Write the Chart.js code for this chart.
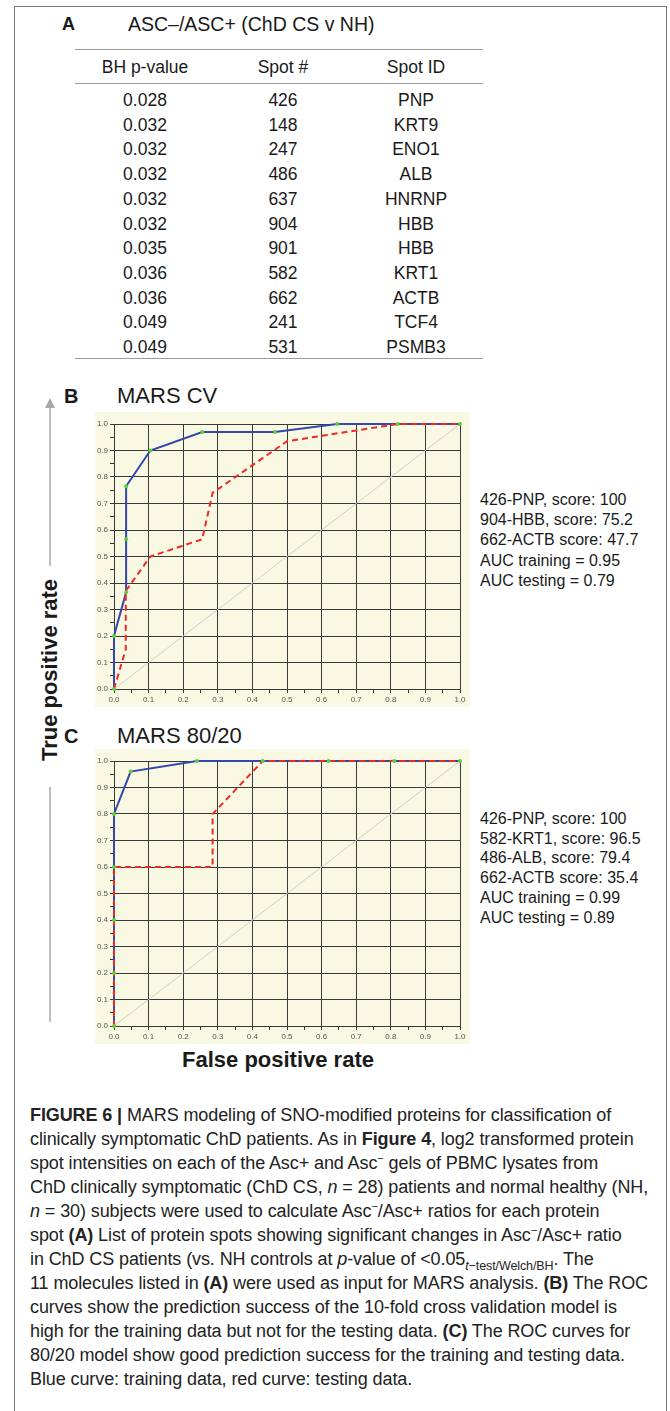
<!DOCTYPE html>
<html>
<head>
<meta charset="utf-8">
<script src="https://cdn.jsdelivr.net/npm/chart.js@4.4.1/dist/chart.umd.min.js"></script>
<style>
  body { margin: 0; background: #fff; font-family: "Liberation Sans", Arial, sans-serif; color: #1a1a1a; }
  #page { position: relative; width: 670px; height: 1411px; overflow: hidden; }
  .abs { position: absolute; white-space: nowrap; }
  .frame { position: absolute; left: 14px; top: 6px; width: 651px; height: 1420px; border: 1px solid #777; }
  .rule { position: absolute; left: 75px; width: 408px; height: 0; border-top: 1px solid #9a9a9a; }
  .cell { position: absolute; width: 120px; text-align: center; font-size: 17.5px; line-height: 24px; }
  .side { position: absolute; left: 480px; font-size: 16px; line-height: 20px; white-space: nowrap; }
  .panel { position: absolute; font-weight: bold; font-size: 20px; line-height: 24px; }
  .ptitle { position: absolute; font-size: 22px; line-height: 26px; }
  canvas.roc { position: absolute; left: 95px; background: #f8f8e3; }
  #caption { position: absolute; left: 30px; top: 1103px; font-size: 18px; line-height: 24px; color: #222; white-space: nowrap; letter-spacing: -0.1px; }
  #caption sup { font-size: 11px; line-height: 0; }
  #caption sub { font-size: 12.5px; line-height: 0; }
</style>
</head>
<body>
<div id="page">
  <div class="frame"></div>

  <div class="abs" style="left:62px;top:12px;font-weight:bold;font-size:18px;line-height:24px;">A</div>
  <div class="abs" style="left:128px;top:12px;font-size:19.5px;line-height:24px;">ASC–/ASC+ (ChD CS v NH)</div>
  <div class="rule" style="top:49px;"></div>
  <div id="table"></div>

  <div class="panel" style="left:64px;top:384px;">B</div>
  <div class="ptitle" style="left:117px;top:383px;">MARS CV</div>
  <canvas id="cvChart" class="roc" width="375" height="295" style="top:412px;"></canvas>
  <div id="cvNotes"></div>

  <div class="panel" style="left:64px;top:724px;">C</div>
  <div class="ptitle" style="left:117px;top:723px;">MARS 80/20</div>
  <canvas id="splitChart" class="roc" width="375" height="295" style="top:749px;"></canvas>
  <div id="splitNotes"></div>

  <!-- shared y axis title with arrow -->
  <svg class="abs" style="left:40px;top:396px;" width="20" height="640">
    <polygon points="10,2 5,12 15,12" fill="#a8a8a8"/>
    <line x1="10" y1="12" x2="10" y2="170" stroke="#a8a8a8" stroke-width="1.5"/>
    <line x1="10" y1="391" x2="10" y2="626" stroke="#a8a8a8" stroke-width="1.5"/>
  </svg>
  <div class="abs" style="left:50px;top:670px;transform:translate(-50%,-50%) rotate(-90deg);font-weight:bold;font-size:22px;">True positive rate</div>
  <div class="abs" style="left:278px;top:1060px;transform:translate(-50%,-50%);font-weight:bold;font-size:22px;">False positive rate</div>

  <div id="caption">
    <b>FIGURE 6 |</b> MARS modeling of SNO-modified proteins for classification of<br>
    clinically symptomatic ChD patients. As in <b>Figure 4</b>, log2 transformed protein<br>
    spot intensities on each of the Asc+ and Asc<sup>−</sup> gels of PBMC lysates from<br>
    ChD clinically symptomatic (ChD CS, <i>n</i> = 28) patients and normal healthy (NH,<br>
    <i>n</i> = 30) subjects were used to calculate Asc<sup>−</sup>/Asc+ ratios for each protein<br>
    spot <b>(A)</b> List of protein spots showing significant changes in Asc<sup>−</sup>/Asc+ ratio<br>
    in ChD CS patients (vs. NH controls at <i>p</i>-value of &lt;0.05<sub><i>t</i>−test/Welch/BH</sub>. The<br>
    11 molecules listed in <b>(A)</b> were used as input for MARS analysis. <b>(B)</b> The ROC<br>
    curves show the prediction success of the 10-fold cross validation model is<br>
    high for the training data but not for the testing data. <b>(C)</b> The ROC curves for<br>
    80/20 model show good prediction success for the training and testing data.<br>
    Blue curve: training data, red curve: testing data.
  </div>
</div>

<script>
// Panel A table
const tableHeader = ['BH p-value', 'Spot #', 'Spot ID'];
const bhPValues = ['0.028', '0.032', '0.032', '0.032', '0.032', '0.032', '0.035', '0.036', '0.036', '0.049', '0.049'];
const spotNumbers = ['426', '148', '247', '486', '637', '904', '901', '582', '662', '241', '531'];
const spotIds = ['PNP', 'KRT9', 'ENO1', 'ALB', 'HNRNP', 'HBB', 'HBB', 'KRT1', 'ACTB', 'TCF4', 'PSMB3'];

// Panel B: MARS CV ROC curves
const cvTrainFpr = [0, 0, 0.035, 0.035, 0.035, 0.105, 0.255, 0.465, 0.645, 0.82, 1.0];
const cvTrainTpr = [0, 0.2, 0.365, 0.565, 0.765, 0.9, 0.97, 0.97, 1.0, 1.0, 1.0];
const cvTestFpr = [0, 0.034, 0.034, 0.105, 0.255, 0.285, 0.5, 0.82, 1.0];
const cvTestTpr = [0, 0.15, 0.37, 0.5, 0.565, 0.74, 0.935, 1.0, 1.0];
const cvNotes = ['426-PNP, score: 100', '904-HBB, score: 75.2', '662-ACTB score: 47.7', 'AUC training = 0.95', 'AUC testing = 0.79'];

// Panel C: MARS 80/20 ROC curves
const splitTrainFpr = [0, 0, 0, 0, 0, 0.048, 0.24, 0.43, 0.62, 0.81, 1.0];
const splitTrainTpr = [0, 0.2, 0.4, 0.6, 0.8, 0.96, 1.0, 1.0, 1.0, 1.0, 1.0];
const splitTestFpr = [0, 0, 0.285, 0.285, 0.43, 1.0];
const splitTestTpr = [0, 0.6, 0.6, 0.8, 1.0, 1.0];
const splitNotes = ['426-PNP, score: 100', '582-KRT1, score: 96.5', '486-ALB, score: 79.4', '662-ACTB score: 35.4', 'AUC training = 0.99', 'AUC testing = 0.89'];

// chance diagonal and axis labels
const chanceFpr = [0, 1];
const chanceTpr = [0, 1];
const axisLabels = ['0.0', '0.1', '0.2', '0.3', '0.4', '0.5', '0.6', '0.7', '0.8', '0.9', '1.0'];

// build the table
const colCenters = [145, 283, 416];
let html = '';
tableHeader.forEach((h, c) => {
  html += `<div class="cell" style="left:${colCenters[c] - 60}px;top:55px;">${h}</div>`;
});
html += '<div class="rule" style="top:83px;"></div>';
bhPValues.forEach((p, i) => {
  const top = 88 + i * 24.7;
  [p, spotNumbers[i], spotIds[i]].forEach((v, c) => {
    html += `<div class="cell" style="left:${colCenters[c] - 60}px;top:${top}px;">${v}</div>`;
  });
});
html += '<div class="rule" style="top:358px;"></div>';
document.getElementById('table').innerHTML = html;

function writeNotes(id, lines, top, step) {
  document.getElementById(id).innerHTML = lines
    .map((t, i) => `<div class="side" style="top:${top + i * step}px;">${t}</div>`)
    .join('');
}
writeNotes('cvNotes', cvNotes, 490, 20.2);
writeNotes('splitNotes', splitNotes, 809, 19.7);

const isMajor = v => Math.abs(v * 10 - Math.round(v * 10)) < 1e-6;
const pts = (xs, ys) => xs.map((x, i) => ({ x: x, y: ys[i] }));

function axis(isX) {
  return {
    type: 'linear',
    min: 0,
    max: 1,
    ticks: {
      stepSize: 0.05,
      autoSkip: false,
      maxRotation: 0,
      padding: 2,
      color: '#555',
      font: { family: 'Liberation Sans', size: 8 },
      callback: v => isMajor(v) ? axisLabels[Math.round(v * 10)] : ''
    },
    grid: {
      color: ctx => (ctx.tick && isMajor(ctx.tick.value)) ? '#3a3a3a' : 'rgba(0,0,0,0)',
      tickColor: '#3a3a3a',
      tickLength: 4,
      lineWidth: 1
    },
    border: { color: '#3a3a3a', width: 1 },
    afterFit: s => { if (isX) s.height = 18; else s.width = 19; }
  };
}

function rocChart(id, trainX, trainY, testX, testY) {
  new Chart(document.getElementById(id), {
    type: 'scatter',
    data: {
      datasets: [
        { // green markers on the training curve
          data: pts(trainX, trainY), showLine: false, clip: false,
          pointRadius: 2, pointBackgroundColor: '#5ccf3a', pointBorderWidth: 0
        },
        { // testing curve
          data: pts(testX, testY), showLine: true, clip: false,
          borderColor: '#f02a22', borderWidth: 2, borderDash: [6, 4], pointRadius: 0
        },
        { // training curve
          data: pts(trainX, trainY), showLine: true, clip: false,
          borderColor: '#3347ad', borderWidth: 2, pointRadius: 0
        },
        { // chance line
          data: pts(chanceFpr, chanceTpr), showLine: true,
          borderColor: '#cfcfcf', borderWidth: 1, pointRadius: 0
        }
      ]
    },
    options: {
      responsive: false,
      animation: false,
      devicePixelRatio: 1,
      layout: { padding: { left: 0, right: 10, top: 12, bottom: 0 } },
      plugins: { legend: { display: false }, tooltip: { enabled: false } },
      scales: { x: axis(true), y: axis(false) }
    }
  });
}

rocChart('cvChart', cvTrainFpr, cvTrainTpr, cvTestFpr, cvTestTpr);
rocChart('splitChart', splitTrainFpr, splitTrainTpr, splitTestFpr, splitTestTpr);
</script>
</body>
</html>
